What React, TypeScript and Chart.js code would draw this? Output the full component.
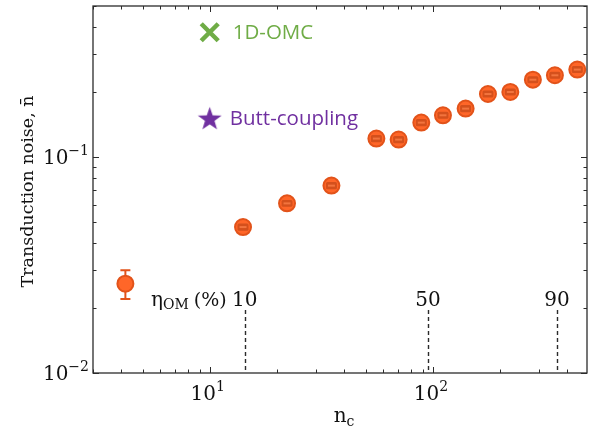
import { useEffect, useRef } from 'react';
import { Chart, registerables } from 'chart.js';

Chart.register(...registerables);

// Photon-number coupling n_c and measured transduction noise
const ncValues = [14.1, 22.2, 35.1, 55.8, 70.2, 88.7, 110.9, 140.1, 176.4, 222.2, 280.4, 351.9, 443.3];
const noiseValues = [0.0474, 0.061, 0.0737, 0.1217, 0.1204, 0.1443, 0.156, 0.1675, 0.1957, 0.2, 0.228, 0.239, 0.254];
const noiseErr = [0.0013, 0.0016, 0.002, 0.0033, 0.0033, 0.0039, 0.0042, 0.0045, 0.0053, 0.0054, 0.0062, 0.0065, 0.0069];

// Low-power point with its asymmetric uncertainty
const lowNc = [4.19];
const lowNoise = [0.0259];
const lowNoiseMin = [0.022];
const lowNoiseMax = [0.0299];

// Reference devices
const refNc = [10, 10];
const refNoise = [0.378, 0.151];
const refLabels = ['1D-OMC', 'Butt-coupling'];

// Optomechanical efficiency markers
const etaNc = [14.35, 95.0, 359.3];
const etaLabels = ['10', '50', '90'];

// Axis limits and decade labels
const xMin = 3;
const xMax = 490;
const yMin = 0.01;
const yMax = 0.5;
const xDecades = [10, 100];
const yDecades = [0.01, 0.1];

const ORANGE = '#FF6628';
const ORANGE_EDGE = '#E2531A';
const GREEN = '#6FAC46';
const PURPLE = '#7030A0';
const INK = '#2b2b2b';
const SERIF = '"DejaVu Serif", serif';
const SANS = '"Open Sans", "Noto Sans", sans-serif';

function makeStar(size: number, color: string): HTMLCanvasElement {
  const c = document.createElement('canvas');
  c.width = size;
  c.height = size;
  const g = c.getContext('2d')!;
  const cx = size / 2;
  const cy = size / 2 + 1;
  const R = size / 2;
  const r = R * 0.4;
  g.beginPath();
  for (let i = 0; i < 10; i++) {
    const rad = i % 2 === 0 ? R : r;
    const a = -Math.PI / 2 + (i * Math.PI) / 5;
    const px = cx + rad * Math.cos(a);
    const py = cy + rad * Math.sin(a);
    if (i === 0) g.moveTo(px, py);
    else g.lineTo(px, py);
  }
  g.closePath();
  g.fillStyle = color;
  g.fill();
  return c;
}

function supText(ctx: CanvasRenderingContext2D, base: string, sup: string, x: number, y: number, align: 'right' | 'center', baseSize: number) {
  ctx.font = `${baseSize}px ${SERIF}`;
  const bw = ctx.measureText(base).width;
  ctx.font = `${Math.round(baseSize * 0.68)}px ${SERIF}`;
  const sw = ctx.measureText(sup).width;
  const total = bw + sw;
  const x0 = align === 'right' ? x - total : x - total / 2;
  ctx.textAlign = 'left';
  ctx.textBaseline = 'alphabetic';
  ctx.font = `${baseSize}px ${SERIF}`;
  ctx.fillText(base, x0, y);
  ctx.font = `${Math.round(baseSize * 0.68)}px ${SERIF}`;
  ctx.fillText(sup, x0 + bw, y - baseSize * 0.45);
}

function logMinorTicks(min: number, max: number): { v: number; major: boolean }[] {
  const out: { v: number; major: boolean }[] = [];
  for (let e = Math.floor(Math.log10(min)); e <= Math.ceil(Math.log10(max)); e++) {
    for (let m = 1; m <= 9; m++) {
      const v = m * Math.pow(10, e);
      if (v >= min * 0.9999 && v <= max * 1.0001) out.push({ v, major: m === 1 });
    }
  }
  return out;
}

const framePlugin = {
  id: 'frameAndLabels',
  beforeDatasetsDraw(chart: any) {
    const { ctx, chartArea: a, scales } = chart;
    const xs = scales.x;
    const ys = scales.y;
    ctx.save();
    // error bar of the low-power point sits behind its marker
    ctx.strokeStyle = ORANGE_EDGE;
    ctx.lineWidth = 2;
    lowNc.forEach((n, i) => {
      const px = xs.getPixelForValue(n);
      const y1 = ys.getPixelForValue(lowNoiseMin[i]);
      const y2 = ys.getPixelForValue(lowNoiseMax[i]);
      ctx.beginPath();
      ctx.moveTo(px, y1);
      ctx.lineTo(px, y2);
      ctx.moveTo(px - 5, y1);
      ctx.lineTo(px + 5, y1);
      ctx.moveTo(px - 5, y2);
      ctx.lineTo(px + 5, y2);
      ctx.stroke();
    });
    // efficiency markers: dashed drop lines
    ctx.strokeStyle = INK;
    ctx.lineWidth = 1.4;
    ctx.setLineDash([4, 3]);
    etaNc.forEach((n) => {
      const px = Math.round(xs.getPixelForValue(n)) + 0.5;
      ctx.beginPath();
      ctx.moveTo(px, 310);
      ctx.lineTo(px, a.bottom);
      ctx.stroke();
    });
    ctx.setLineDash([]);
    ctx.restore();
  },
  afterDatasetsDraw(chart: any) {
    const { ctx, chartArea: a, scales } = chart;
    const xs = scales.x;
    const ys = scales.y;
    ctx.save();

    // short error bars on the main series, shown inside each marker
    ncValues.forEach((n, i) => {
      const px = xs.getPixelForValue(n);
      const y1 = ys.getPixelForValue(noiseValues[i] - noiseErr[i]);
      const y2 = ys.getPixelForValue(noiseValues[i] + noiseErr[i]);
      const top = Math.min(y1, y2) - 1;
      const h = Math.abs(y1 - y2) + 2;
      ctx.fillStyle = '#D4501C';
      ctx.beginPath();
      ctx.roundRect(px - 5.5, top, 11, h, 1.5);
      ctx.fill();
      ctx.fillStyle = '#F2743E';
      ctx.fillRect(px - 3.5, top + h / 2 - 1, 7, 2);
    });

    // frame
    ctx.strokeStyle = INK;
    ctx.lineWidth = 1.3;
    ctx.strokeRect(a.left, a.top, a.right - a.left, a.bottom - a.top);

    // inward ticks on all four sides
    ctx.lineWidth = 1;
    logMinorTicks(xMin, xMax).forEach(({ v, major }) => {
      const px = Math.round(xs.getPixelForValue(v)) + 0.5;
      const len = major ? 6 : 3.5;
      ctx.beginPath();
      ctx.moveTo(px, a.bottom);
      ctx.lineTo(px, a.bottom - len);
      ctx.moveTo(px, a.top);
      ctx.lineTo(px, a.top + len);
      ctx.stroke();
    });
    logMinorTicks(yMin, yMax).forEach(({ v, major }) => {
      const py = Math.round(ys.getPixelForValue(v)) + 0.5;
      const len = major ? 6 : 3.5;
      ctx.beginPath();
      ctx.moveTo(a.left, py);
      ctx.lineTo(a.left + len, py);
      ctx.moveTo(a.right, py);
      ctx.lineTo(a.right - len, py);
      ctx.stroke();
    });

    // decade labels
    ctx.fillStyle = '#111';
    xDecades.forEach((v) => {
      const e = Math.round(Math.log10(v));
      supText(ctx, '10', String(e), xs.getPixelForValue(v) - 2, a.bottom + 27, 'center', 20);
    });
    yDecades.forEach((v) => {
      const e = Math.round(Math.log10(v));
      supText(ctx, '10', '\u2212' + String(-e), a.left - 4, ys.getPixelForValue(v) + 7, 'right', 20);
    });

    // axis titles
    ctx.textBaseline = 'alphabetic';
    ctx.font = `20px ${SERIF}`;
    const nW = ctx.measureText('n').width;
    ctx.font = `14px ${SERIF}`;
    const cW = ctx.measureText('c').width;
    const xc = (a.left + a.right) / 2 + 4;
    ctx.textAlign = 'left';
    ctx.font = `20px ${SERIF}`;
    ctx.fillText('n', xc - (nW + cW) / 2, 422);
    ctx.font = `14px ${SERIF}`;
    ctx.fillText('c', xc - (nW + cW) / 2 + nW, 426);

    ctx.save();
    ctx.translate(33, (a.top + a.bottom) / 2 + 2);
    ctx.rotate(-Math.PI / 2);
    ctx.textAlign = 'center';
    ctx.font = `17.5px ${SERIF}`;
    ctx.fillText('Transduction noise, n\u0304', 0, 0);
    ctx.restore();

    // efficiency labels
    ctx.font = `20px ${SERIF}`;
    ctx.textAlign = 'center';
    etaNc.forEach((n, i) => {
      ctx.fillText(etaLabels[i], xs.getPixelForValue(n), 306);
    });
    const etaX = xs.getPixelForValue(etaNc[0]) - 18;
    ctx.textAlign = 'right';
    ctx.font = `19px ${SERIF}`;
    ctx.fillText('(%)', etaX, 306);
    const pW = ctx.measureText('(%)').width + 5;
    ctx.font = `14px ${SERIF}`;
    ctx.fillText('OM', etaX - pW, 309);
    const omW = ctx.measureText('OM').width;
    ctx.font = `20px ${SERIF}`;
    ctx.fillText('\u03b7', etaX - pW - omW, 306);

    // reference device labels
    ctx.textAlign = 'left';
    ctx.textBaseline = 'middle';
    ctx.font = `20.5px ${SANS}`;
    const refColors = [GREEN, PURPLE];
    const refGap = [23, 20];
    refNc.forEach((n, i) => {
      ctx.fillStyle = refColors[i];
      ctx.fillText(refLabels[i], xs.getPixelForValue(n) + refGap[i], ys.getPixelForValue(refNoise[i]) + 1);
    });
    ctx.restore();
  },
};

export default function App() {
  const canvasRef = useRef<HTMLCanvasElement | null>(null);

  useEffect(() => {
    document.body.style.margin = '0';
    const canvas = canvasRef.current;
    if (!canvas) return;
    const star = makeStar(25, PURPLE);
    const chart = new Chart(canvas, {
      type: 'scatter',
      data: {
        datasets: [
          {
            data: lowNc.map((x, i) => ({ x, y: lowNoise[i] })),
            backgroundColor: ORANGE,
            borderColor: ORANGE_EDGE,
            borderWidth: 2,
            pointRadius: 8,
          },
          {
            data: ncValues.map((x, i) => ({ x, y: noiseValues[i] })),
            backgroundColor: ORANGE,
            borderColor: ORANGE_EDGE,
            borderWidth: 2,
            pointRadius: 8,
          },
          {
            data: [{ x: refNc[0], y: refNoise[0] }],
            pointStyle: 'crossRot',
            borderColor: GREEN,
            borderWidth: 4.5,
            pointRadius: 12,
          },
          {
            data: [{ x: refNc[1], y: refNoise[1] }],
            pointStyle: star,
            pointRadius: 12,
          },
        ],
      },
      options: {
        responsive: false,
        animation: false,
        events: [],
        layout: { autoPadding: false, padding: { left: 93, right: 2, top: 6, bottom: 55 } },
        plugins: { legend: { display: false }, tooltip: { enabled: false } },
        scales: {
          x: { type: 'logarithmic', min: xMin, max: xMax, display: false },
          y: { type: 'logarithmic', min: yMin, max: yMax, display: false },
        },
      },
      plugins: [framePlugin],
    });
    return () => chart.destroy();
  }, []);

  return <canvas ref={canvasRef} width={589} height={428} style={{ display: 'block' }} />;
}
